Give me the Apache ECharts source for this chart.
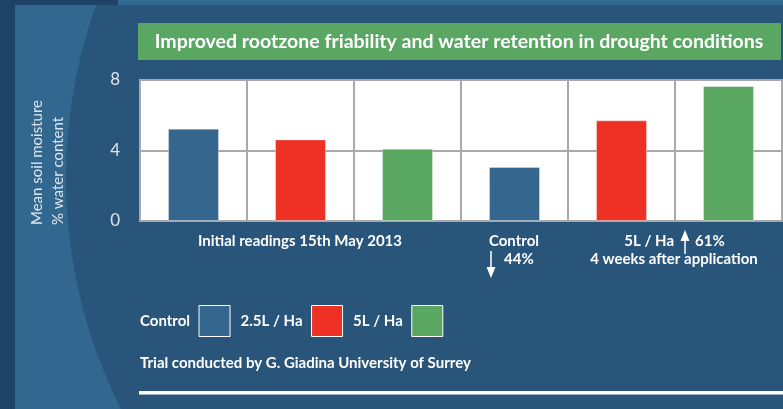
<!DOCTYPE html>
<html>
<head>
<meta charset="utf-8">
<script src="https://cdn.jsdelivr.net/npm/echarts@6/dist/echarts.min.js"></script>
<style>
html,body{margin:0;padding:0;background:#29557a;}
#chart{width:783px;height:409px;}
</style>
</head>
<body>
<div id="chart"></div>
<script>
// ---- data ----
const categories = ['Initial · Control', 'Initial · 2.5L / Ha', 'Initial · 5L / Ha', 'Week 4 · Control', 'Week 4 · 2.5L / Ha', 'Week 4 · 5L / Ha'];
const seriesNames = ['Control', '2.5L / Ha', '5L / Ha'];
const controlValues = [5.24, null, null, 3.07, null, null];
const dose25Values  = [null, 4.63, null, null, 5.71, null];
const dose5Values   = [null, null, 4.10, null, null, 7.66];
const yTicks = [0, 4, 8];
const titleText = 'Improved rootzone friability and water retention in drought conditions';
const yTitleLines = ['Mean soil moisture', '% water content'];
const groupLabel1 = 'Initial readings 15th May 2013';
const controlLabel = 'Control';
const controlChange = '44%';
const doseLabel = '5L / Ha';
const doseChange = '61%';
const afterLabel = '4 weeks after application';
const footnote = 'Trial conducted by G. Giadina University of Surrey';

const colors = ['#34668e', '#ef3125', '#5aa762'];
const FONT = 'Lato, "Open Sans", sans-serif';
const gridColor = '#a9a9ad';

const chart = echarts.init(document.getElementById('chart'), null, {renderer: 'canvas'});

const valueSets = [controlValues, dose25Values, dose5Values];
const series = seriesNames.map((name, i) => ({
  name: name,
  type: 'bar',
  stack: 'one',
  barWidth: 51,
  data: valueSets[i],
  itemStyle: {color: colors[i], borderColor: 'rgba(255,255,255,0.35)', borderWidth: 1},
  emphasis: {disabled: true}
}));

const white = '#ffffff';
const textStyleBold = {fill: white, font: 'bold 15px ' + FONT};

const graphic = [
  // background decoration
  {type: 'rect', z: -10, shape: {x: 0, y: 0, width: 783, height: 409}, style: {fill: '#29557a'}},
  {type: 'rect', z: -9, shape: {x: 15, y: 5, width: 130, height: 404}, style: {fill: '#32688f'}},
  {type: 'circle', z: -8, shape: {cx: 579, cy: 178, r: 513}, style: {fill: '#29557a'}},
  {type: 'rect', z: -7, shape: {x: 0, y: 0, width: 783, height: 5}, style: {fill: '#31688f'}},
  {type: 'rect', z: -6, shape: {x: 0, y: 0, width: 118, height: 5}, style: {fill: '#1f4367'}},
  {type: 'rect', z: -6, shape: {x: 0, y: 0, width: 15, height: 409}, style: {fill: '#1f4367'}},
  // title box
  {type: 'rect', z: 1, shape: {x: 138, y: 23, width: 643, height: 37}, style: {fill: '#5aa764'}},
  {type: 'text', z: 2, x: 459, y: 42, style: {text: titleText, fill: white, font: 'bold 19.5px ' + FONT, textAlign: 'center', textVerticalAlign: 'middle'}},
  // y axis title
  {type: 'text', z: 2, x: 37, y: 225, rotation: Math.PI / 2, style: {text: yTitleLines[0], fill: '#dfe4ea', font: '15px ' + FONT, textAlign: 'left', textVerticalAlign: 'middle'}},
  {type: 'text', z: 2, x: 58, y: 225, rotation: Math.PI / 2, style: {text: yTitleLines[1], fill: '#dfe4ea', font: '15px ' + FONT, textAlign: 'left', textVerticalAlign: 'middle'}},
  // category annotations
  {type: 'text', z: 2, x: 300, y: 241, style: Object.assign({text: groupLabel1, textAlign: 'center', textVerticalAlign: 'middle'}, textStyleBold)},
  {type: 'text', z: 2, x: 514, y: 241, style: Object.assign({text: controlLabel, textAlign: 'center', textVerticalAlign: 'middle'}, textStyleBold)},
  {type: 'text', z: 2, x: 504, y: 259, style: Object.assign({text: controlChange, textAlign: 'left', textVerticalAlign: 'middle'}, textStyleBold)},
  {type: 'text', z: 2, x: 674, y: 241, style: Object.assign({text: doseLabel, textAlign: 'right', textVerticalAlign: 'middle'}, textStyleBold)},
  {type: 'text', z: 2, x: 695, y: 241, style: Object.assign({text: doseChange, textAlign: 'left', textVerticalAlign: 'middle'}, textStyleBold)},
  {type: 'text', z: 2, x: 674, y: 259, style: Object.assign({text: afterLabel, textAlign: 'center', textVerticalAlign: 'middle'}, textStyleBold)},
  // arrows
  {type: 'line', z: 2, shape: {x1: 491, y1: 251, x2: 491, y2: 270}, style: {stroke: white, lineWidth: 1.5}},
  {type: 'polygon', z: 2, shape: {points: [[486.5, 267], [495.5, 267], [491, 278]]}, style: {fill: white}},
  {type: 'line', z: 2, shape: {x1: 685, y1: 238, x2: 685, y2: 254}, style: {stroke: white, lineWidth: 1.5}},
  {type: 'polygon', z: 2, shape: {points: [[680.5, 241], [689.5, 241], [685, 230]]}, style: {fill: white}},
  // footnote and rule
  {type: 'text', z: 2, x: 140, y: 363, style: Object.assign({text: footnote, textAlign: 'left', textVerticalAlign: 'middle'}, textStyleBold)},
  {type: 'rect', z: 2, shape: {x: 139, y: 391, width: 644, height: 3}, style: {fill: '#ffffff'}},
  {type: 'rect', z: 2, shape: {x: 139, y: 394, width: 644, height: 1}, style: {fill: '#9fb3c6'}}
];

chart.setOption({
  animation: false,
  backgroundColor: 'transparent',
  textStyle: {fontFamily: FONT},
  grid: {left: 140, top: 80, right: 1, bottom: 188, show: true, backgroundColor: '#ffffff', borderColor: gridColor, borderWidth: 2},
  legend: {
    show: true,
    data: seriesNames,
    left: 135, top: 300,
    align: 'right',
    icon: 'rect',
    itemWidth: 31, itemHeight: 31,
    itemGap: 10,
    itemStyle: {borderColor: '#ffffff', borderWidth: 1},
    textStyle: {color: '#ffffff', fontSize: 15, fontWeight: 'bold', fontFamily: FONT, padding: [0, 4, 0, 0]},
    selectedMode: false
  },
  xAxis: {
    type: 'category',
    data: categories,
    axisLabel: {show: false, interval: 0},
    axisTick: {show: false},
    axisLine: {show: true, lineStyle: {color: gridColor, width: 2}},
    splitLine: {show: true, interval: 0, lineStyle: {color: gridColor, width: 2}}
  },
  yAxis: {
    type: 'value',
    min: yTicks[0], max: yTicks[yTicks.length - 1], interval: yTicks[1] - yTicks[0],
    axisLabel: {color: '#dde3ea', fontSize: 17, margin: 20, fontFamily: FONT},
    axisLine: {show: false},
    axisTick: {show: false},
    splitLine: {show: true, lineStyle: {color: gridColor, width: 2}}
  },
  graphic: graphic,
  series: series
});
</script>
</body>
</html>
